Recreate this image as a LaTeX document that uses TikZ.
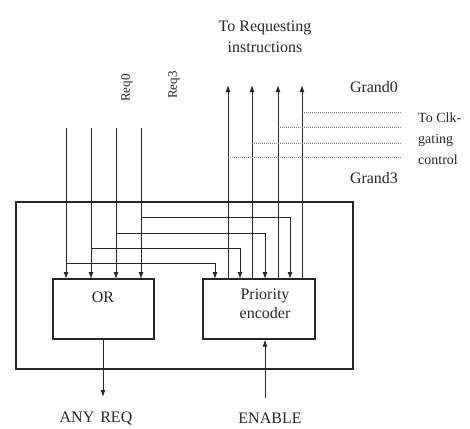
\documentclass[tikz,border=0pt]{standalone}
\usepackage{fontspec}
\setmainfont{Liberation Serif}
\usetikzlibrary{arrows.meta}
\begin{document}
\begin{tikzpicture}[x=1pt,y=-1pt,
  wire/.style={line width=1pt,draw=black!85},
  arr/.style={wire,-{Latex[length=7pt,width=5pt]}},
  gnt/.style={line width=1pt,draw=black!50,densely dotted},
  blk/.style={draw=black!85,line width=1.1pt,inner sep=0pt},
  lbl/.style={font=\fontsize{16}{19}\selectfont,text=black!85,inner sep=0pt}]
\useasboundingbox (0,0) rectangle (470,428);
% outer box
\node[blk,minimum width=337pt,minimum height=167pt] (outer) at (184.5,285.5) {};
% blocks
\node[blk,minimum width=101pt,minimum height=60pt] (or) at (103.5,309) {};
\node[lbl,anchor=center] (ortxt) at (103,297) {OR};
\node[blk,minimum width=112pt,minimum height=60pt] (pe) at (259,309) {};
\node[lbl,align=center,anchor=north] (petxt) at (265,289) {Priority\\encoder};
% request inputs
\foreach \i/\x in {0/66,1/91,2/116,3/141}{
  \coordinate (rin\i) at (\x,128);
  \draw[arr] (rin\i) -- (\x,279);
}
% branches to priority encoder
\coordinate (b3) at (141,217); \coordinate (p3) at (290,217);
\coordinate (b2) at (116,233); \coordinate (p2) at (265,233);
\coordinate (b1) at (91,248);  \coordinate (p1) at (240,248);
\coordinate (b0) at (66,263);  \coordinate (p0) at (215,263);
\draw[arr] (b3) -- (p3) -- (290,279);
\draw[arr] (b2) -- (p2) -- (265,279);
\draw[arr] (b1) -- (p1) -- (240,279);
\draw[arr] (b0) -- (p0) -- (215,279);
% grant outputs
\foreach \i/\x in {0/228,1/252,2/278,3/302}{
  \coordinate (gt\i) at (\x,85);
  \draw[arr] (\x,279) -- (gt\i);
}
% grants to clock gating (dotted)
\coordinate (c3) at (302,112); \coordinate (e3) at (402,112);
\coordinate (c2) at (278,127); \coordinate (e2) at (402,127);
\coordinate (c1) at (252,143); \coordinate (e1) at (402,143);
\coordinate (c0) at (228,157); \coordinate (e0) at (402,157);
\draw[gnt] (c3) -- (e3);
\draw[gnt] (c2) -- (e2);
\draw[gnt] (c1) -- (e1);
\draw[gnt] (c0) -- (e0);
% any req and enable
\coordinate (anyend) at (103,397);
\draw[arr] (or.south -| anyend) -- (anyend);
\coordinate (enbeg) at (265,398);
\draw[arr] (enbeg) -- (enbeg |- pe.south);
% labels
\node[lbl,align=center] (toreq) at (265,37) {To Requesting\\[2pt]instructions};
\node[lbl,rotate=90,font=\fontsize{13}{15}\selectfont] (req0) at (127,88) {Req0};
\node[lbl,rotate=90,font=\fontsize{13}{15}\selectfont] (req3) at (174,85) {Req3};
\node[lbl] (g0) at (374,87) {Grand0};
\node[lbl] (g3) at (374,178) {Grand3};
\node[lbl,align=left,anchor=west,font=\fontsize{14}{21}\selectfont] (clk) at (418,139) {To Clk-\\gating\\control};
\node[lbl] (anyreq) at (96,418) {ANY\hspace{6pt}REQ};
\node[lbl] (enable) at (270,418) {ENABLE};
\end{tikzpicture}
\end{document}
